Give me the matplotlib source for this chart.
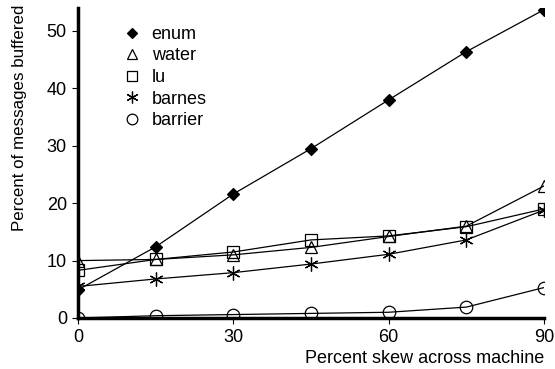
import matplotlib
matplotlib.use("Agg")
import matplotlib.pyplot as plt

plt.rcParams["font.family"] = ["Liberation Sans", "DejaVu Sans"]

skew = [0, 15, 30, 45, 60, 75, 90]
enum = [4.9, 12.4, 21.6, 29.5, 38.0, 46.4, 53.7]
water = [10.0, 10.2, 11.0, 12.3, 14.2, 16.0, 23.0]
lu = [8.3, 10.2, 11.5, 13.6, 14.3, 15.9, 19.0]
barnes = [5.5, 6.8, 7.9, 9.4, 11.1, 13.6, 18.8]
barrier = [0.0, 0.4, 0.6, 0.8, 1.0, 1.9, 5.3]

series = [
    ("enum", enum, dict(marker="D", markersize=6, markerfacecolor="black")),
    ("water", water, dict(marker="^", markersize=9, markerfacecolor="none")),
    ("lu", lu, dict(marker="s", markersize=9, markerfacecolor="none")),
    ("barnes", barnes, dict(marker=(6, 2, 0), markersize=10)),
    ("barrier", barrier, dict(marker="o", markersize=9, markerfacecolor="none")),
]

fig = plt.figure(figsize=(5.55, 3.69), dpi=100)
ax = fig.add_axes([78 / 555, 51 / 369, 466 / 555, 310 / 369])

for name, vals, style in series:
    ax.plot(skew, vals, color="black", linewidth=0.9, markeredgecolor="black",
            markeredgewidth=0.9, label=name, **style)

ax.set_xlim(0, 90)
ax.set_ylim(0, 54)
ax.set_xticks([0, 30, 60, 90])
ax.set_yticks([0, 10, 20, 30, 40, 50])
ax.tick_params(labelsize=13, length=4, width=0.8, direction="out", pad=4)

for side in ["top", "right"]:
    ax.spines[side].set_visible(False)
for side in ["left", "bottom"]:
    ax.spines[side].set_linewidth(2.5)

ax.set_xlabel("Percent skew across machine", fontsize=13, loc="right", labelpad=3)
ax.set_ylabel("Percent of messages buffered", fontsize=12.2)
ax.yaxis.set_label_coords(-0.11, 0.645)

leg = ax.legend(loc="upper left", bbox_to_anchor=(0.096, 0.942), frameon=False,
                fontsize=13, handlelength=1.0, handletextpad=0.6,
                labelspacing=0.25, borderpad=0, borderaxespad=0, markerscale=0.85)
for line in leg.get_lines():
    line.set_linestyle("none")

plt.savefig("out.png", dpi=100)
